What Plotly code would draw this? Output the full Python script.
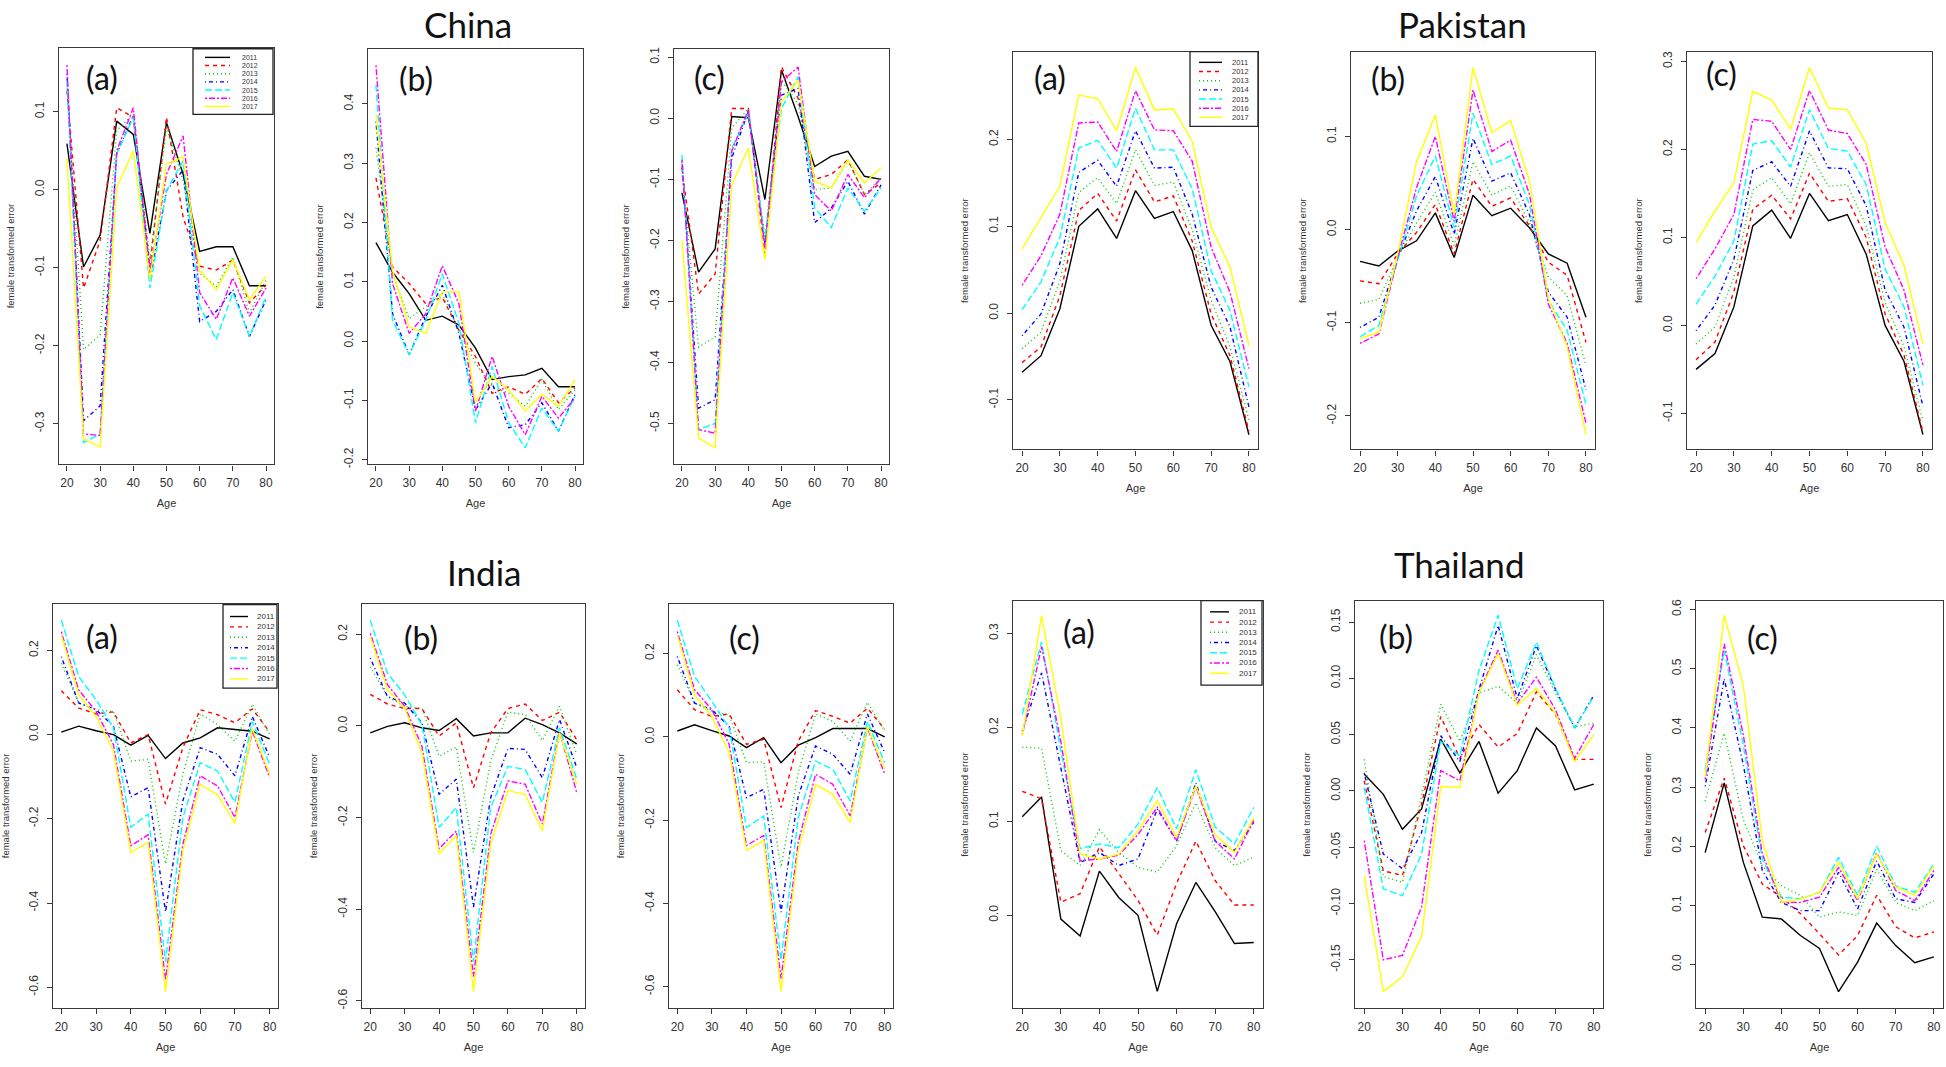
import plotly.graph_objects as go

W, H = 1946, 1067

ages = [20, 25, 30, 35, 40, 45, 50, 55, 60, 65, 70, 75, 80]
years = ["2011", "2012", "2013", "2014", "2015", "2016", "2017"]
line_colors = ["#000000", "#FF0000", "#00CD00", "#0000FF", "#00FFFF", "#FF00FF", "#FFFF00"]
line_dashes = ["solid", "4px,4px", "1px,3px", "1px,3px,4px,3px", "7px,3px", "2px,2px,6px,2px", "solid"]

china_a = [
    [0.059, -0.099, -0.058, 0.088, 0.071, -0.056, 0.086, 0.020, -0.079, -0.073, -0.073, -0.123, -0.123],
    [0.127, -0.126, -0.065, 0.105, 0.093, -0.099, 0.093, -0.035, -0.098, -0.103, -0.090, -0.145, -0.122],
    [0.135, -0.205, -0.186, 0.076, 0.097, -0.090, 0.080, 0.012, -0.107, -0.124, -0.086, -0.158, -0.116],
    [0.148, -0.296, -0.277, 0.046, 0.095, -0.115, -0.001, 0.025, -0.169, -0.156, -0.128, -0.188, -0.141],
    [0.140, -0.324, -0.313, 0.046, 0.093, -0.126, -0.001, 0.037, -0.149, -0.192, -0.132, -0.188, -0.137],
    [0.160, -0.313, -0.315, 0.050, 0.105, -0.107, 0.020, 0.069, -0.132, -0.166, -0.113, -0.162, -0.126],
    [0.040, -0.319, -0.330, 0.003, 0.050, -0.115, 0.033, 0.042, -0.103, -0.128, -0.090, -0.141, -0.111],
]
china_b = [
    [0.166, 0.116, 0.080, 0.035, 0.042, 0.027, -0.012, -0.065, -0.060, -0.057, -0.046, -0.077, -0.077],
    [0.275, 0.125, 0.097, 0.063, 0.074, 0.018, -0.026, -0.088, -0.077, -0.090, -0.063, -0.104, -0.079],
    [0.326, 0.113, 0.038, 0.058, 0.080, 0.018, -0.037, -0.077, -0.088, -0.110, -0.065, -0.116, -0.082],
    [0.370, 0.046, -0.023, 0.041, 0.094, 0.013, -0.116, -0.071, -0.146, -0.141, -0.104, -0.152, -0.090],
    [0.432, 0.035, -0.023, 0.035, 0.113, 0.030, -0.138, -0.043, -0.138, -0.180, -0.113, -0.152, -0.093],
    [0.465, 0.097, 0.013, 0.046, 0.127, 0.063, -0.118, -0.026, -0.110, -0.158, -0.093, -0.130, -0.096],
    [0.382, 0.119, 0.024, 0.013, 0.083, 0.083, -0.104, -0.060, -0.082, -0.118, -0.090, -0.110, -0.065],
]
china_c = [
    [-0.122, -0.252, -0.214, 0.003, 0.001, -0.133, 0.079, 0.003, -0.079, -0.062, -0.054, -0.095, -0.100],
    [-0.081, -0.288, -0.255, 0.016, 0.016, -0.223, 0.084, 0.033, -0.100, -0.092, -0.068, -0.125, -0.106],
    [-0.087, -0.375, -0.358, -0.016, 0.016, -0.195, 0.062, 0.024, -0.117, -0.114, -0.068, -0.125, -0.098],
    [-0.071, -0.475, -0.461, -0.065, 0.011, -0.206, 0.038, 0.049, -0.171, -0.147, -0.103, -0.157, -0.109],
    [-0.060, -0.510, -0.500, -0.049, 0.008, -0.200, 0.016, 0.068, -0.147, -0.179, -0.114, -0.152, -0.114],
    [-0.068, -0.510, -0.516, -0.054, 0.014, -0.212, 0.060, 0.084, -0.125, -0.152, -0.092, -0.130, -0.098],
    [-0.200, -0.524, -0.540, -0.109, -0.049, -0.231, 0.027, 0.062, -0.103, -0.114, -0.068, -0.106, -0.081],
]
pakistan_a = [
    [-0.068, -0.049, 0.005, 0.100, 0.120, 0.086, 0.141, 0.109, 0.117, 0.072, -0.014, -0.056, -0.140],
    [-0.057, -0.039, 0.020, 0.118, 0.138, 0.106, 0.165, 0.128, 0.135, 0.083, -0.001, -0.049, -0.136],
    [-0.041, -0.022, 0.037, 0.139, 0.156, 0.126, 0.188, 0.147, 0.151, 0.096, 0.015, -0.039, -0.123],
    [-0.026, -0.001, 0.057, 0.162, 0.176, 0.146, 0.210, 0.167, 0.168, 0.114, 0.030, -0.016, -0.108],
    [0.004, 0.036, 0.087, 0.190, 0.199, 0.167, 0.236, 0.188, 0.188, 0.143, 0.049, 0.003, -0.085],
    [0.032, 0.066, 0.114, 0.219, 0.220, 0.186, 0.256, 0.211, 0.210, 0.175, 0.076, 0.024, -0.064],
    [0.074, 0.110, 0.146, 0.251, 0.247, 0.210, 0.283, 0.234, 0.235, 0.198, 0.099, 0.053, -0.037],
]
pakistan_b = [
    [-0.034, -0.039, -0.023, -0.012, 0.018, -0.030, 0.037, 0.015, 0.023, 0.002, -0.026, -0.036, -0.094],
    [-0.055, -0.058, -0.026, -0.003, 0.027, -0.026, 0.054, 0.025, 0.034, 0.004, -0.035, -0.049, -0.121],
    [-0.079, -0.075, -0.030, 0.007, 0.040, -0.017, 0.073, 0.037, 0.047, 0.007, -0.051, -0.071, -0.146],
    [-0.105, -0.094, -0.030, 0.020, 0.057, -0.005, 0.098, 0.052, 0.061, 0.016, -0.067, -0.094, -0.172],
    [-0.115, -0.103, -0.033, 0.036, 0.079, 0.002, 0.125, 0.070, 0.079, 0.027, -0.076, -0.108, -0.188],
    [-0.122, -0.112, -0.030, 0.045, 0.100, 0.009, 0.150, 0.084, 0.096, 0.038, -0.080, -0.122, -0.208],
    [-0.117, -0.110, -0.026, 0.073, 0.123, 0.016, 0.174, 0.104, 0.117, 0.052, -0.073, -0.126, -0.220],
]
pakistan_c = [
    [-0.050, -0.032, 0.021, 0.113, 0.131, 0.099, 0.150, 0.119, 0.126, 0.081, 0.000, -0.041, -0.124],
    [-0.039, -0.019, 0.038, 0.132, 0.148, 0.121, 0.173, 0.141, 0.144, 0.100, 0.013, -0.034, -0.121],
    [-0.021, -0.002, 0.055, 0.154, 0.168, 0.138, 0.196, 0.158, 0.160, 0.113, 0.026, -0.024, -0.109],
    [-0.006, 0.023, 0.075, 0.176, 0.186, 0.158, 0.221, 0.179, 0.178, 0.136, 0.040, -0.002, -0.092],
    [0.024, 0.056, 0.096, 0.206, 0.210, 0.180, 0.245, 0.201, 0.198, 0.160, 0.064, 0.021, -0.068],
    [0.053, 0.087, 0.126, 0.234, 0.232, 0.200, 0.267, 0.222, 0.218, 0.183, 0.089, 0.040, -0.045],
    [0.094, 0.130, 0.162, 0.266, 0.256, 0.223, 0.293, 0.247, 0.245, 0.207, 0.117, 0.068, -0.021],
]
india_a = [
    [0.006, 0.020, 0.009, 0.000, -0.025, -0.002, -0.057, -0.020, -0.008, 0.016, 0.012, 0.008, -0.010],
    [0.104, 0.063, 0.049, 0.054, -0.020, 0.000, -0.165, -0.031, 0.059, 0.047, 0.028, 0.061, 0.006],
    [0.169, 0.075, 0.059, 0.055, -0.063, -0.059, -0.307, -0.094, 0.049, 0.024, -0.016, 0.072, 0.000],
    [0.185, 0.075, 0.059, 0.020, -0.148, -0.126, -0.421, -0.157, -0.031, -0.047, -0.098, 0.043, -0.054],
    [0.272, 0.138, 0.083, 0.016, -0.220, -0.189, -0.539, -0.197, -0.067, -0.087, -0.161, 0.031, -0.071],
    [0.244, 0.106, 0.055, -0.024, -0.264, -0.238, -0.583, -0.260, -0.098, -0.122, -0.197, 0.008, -0.102],
    [0.236, 0.094, 0.043, -0.039, -0.280, -0.256, -0.610, -0.276, -0.118, -0.143, -0.211, 0.014, -0.094],
]
india_b = [
    [-0.015, -0.001, 0.007, -0.004, -0.010, 0.016, -0.022, -0.015, -0.015, 0.017, 0.003, -0.015, -0.039],
    [0.069, 0.048, 0.038, 0.038, -0.022, 0.007, -0.135, -0.015, 0.038, 0.048, 0.012, 0.030, -0.030],
    [0.129, 0.064, 0.043, 0.039, -0.066, -0.046, -0.276, -0.077, 0.030, 0.025, -0.032, 0.043, -0.062],
    [0.148, 0.064, 0.050, 0.007, -0.149, -0.116, -0.395, -0.156, -0.049, -0.051, -0.113, 0.014, -0.091],
    [0.231, 0.115, 0.068, 0.003, -0.221, -0.178, -0.514, -0.178, -0.088, -0.095, -0.167, -0.004, -0.116],
    [0.202, 0.090, 0.043, -0.044, -0.268, -0.229, -0.547, -0.236, -0.120, -0.127, -0.214, -0.012, -0.145],
    [0.195, 0.079, 0.039, -0.059, -0.279, -0.239, -0.579, -0.257, -0.141, -0.149, -0.229, -0.015, -0.127],
]
india_c = [
    [0.014, 0.029, 0.015, 0.002, -0.026, -0.002, -0.062, -0.020, -0.002, 0.020, 0.020, 0.020, 0.000],
    [0.113, 0.065, 0.049, 0.055, -0.018, -0.006, -0.170, -0.010, 0.063, 0.049, 0.033, 0.069, 0.018],
    [0.173, 0.081, 0.061, 0.053, -0.062, -0.060, -0.313, -0.086, 0.055, 0.037, -0.010, 0.083, 0.014],
    [0.193, 0.081, 0.065, 0.025, -0.146, -0.126, -0.421, -0.142, -0.022, -0.042, -0.090, 0.055, -0.038],
    [0.280, 0.145, 0.085, 0.022, -0.218, -0.190, -0.536, -0.194, -0.058, -0.078, -0.154, 0.037, -0.062],
    [0.253, 0.113, 0.065, -0.018, -0.261, -0.237, -0.580, -0.253, -0.090, -0.114, -0.190, 0.022, -0.090],
    [0.245, 0.101, 0.049, -0.038, -0.273, -0.249, -0.612, -0.273, -0.114, -0.138, -0.206, 0.025, -0.078],
]
thailand_a = [
    [0.105, 0.126, -0.004, -0.022, 0.047, 0.019, 0.000, -0.081, -0.009, 0.035, 0.004, -0.030, -0.029],
    [0.132, 0.124, 0.014, 0.023, 0.073, 0.044, 0.016, -0.021, 0.034, 0.079, 0.037, 0.011, 0.011],
    [0.179, 0.178, 0.069, 0.053, 0.091, 0.067, 0.051, 0.046, 0.074, 0.120, 0.072, 0.053, 0.062],
    [0.196, 0.258, 0.157, 0.056, 0.067, 0.053, 0.060, 0.113, 0.079, 0.141, 0.079, 0.069, 0.099],
    [0.214, 0.291, 0.175, 0.071, 0.076, 0.072, 0.097, 0.136, 0.092, 0.155, 0.094, 0.076, 0.115],
    [0.192, 0.286, 0.185, 0.058, 0.060, 0.064, 0.086, 0.115, 0.079, 0.137, 0.079, 0.060, 0.101],
    [0.191, 0.319, 0.210, 0.065, 0.060, 0.065, 0.090, 0.122, 0.083, 0.138, 0.086, 0.067, 0.104],
]
thailand_b = [
    [0.015, -0.003, -0.034, -0.016, 0.046, 0.016, 0.044, -0.002, 0.018, 0.056, 0.040, 0.001, 0.006],
    [0.009, -0.071, -0.075, -0.012, 0.066, 0.029, 0.059, 0.039, 0.051, 0.088, 0.068, 0.028, 0.028],
    [0.028, -0.076, -0.081, -0.004, 0.077, 0.044, 0.087, 0.093, 0.078, 0.121, 0.087, 0.057, 0.060],
    [0.016, -0.056, -0.069, -0.037, 0.049, 0.026, 0.090, 0.147, 0.082, 0.129, 0.090, 0.056, 0.085],
    [0.003, -0.087, -0.093, -0.056, 0.044, 0.031, 0.107, 0.156, 0.091, 0.132, 0.091, 0.056, 0.084],
    [-0.044, -0.150, -0.146, -0.103, 0.018, 0.009, 0.088, 0.125, 0.078, 0.101, 0.072, 0.029, 0.059],
    [-0.075, -0.178, -0.165, -0.129, 0.004, 0.003, 0.087, 0.122, 0.076, 0.091, 0.069, 0.026, 0.050],
]
thailand_c = [
    [0.189, 0.307, 0.173, 0.080, 0.077, 0.049, 0.027, -0.046, 0.004, 0.070, 0.032, 0.003, 0.013],
    [0.223, 0.315, 0.201, 0.136, 0.114, 0.086, 0.052, 0.016, 0.049, 0.117, 0.064, 0.045, 0.055],
    [0.276, 0.391, 0.245, 0.167, 0.133, 0.117, 0.080, 0.089, 0.083, 0.161, 0.105, 0.091, 0.108],
    [0.301, 0.483, 0.338, 0.159, 0.105, 0.091, 0.091, 0.156, 0.094, 0.175, 0.111, 0.105, 0.153],
    [0.329, 0.531, 0.371, 0.178, 0.114, 0.111, 0.122, 0.181, 0.117, 0.200, 0.133, 0.122, 0.170],
    [0.313, 0.542, 0.388, 0.187, 0.105, 0.105, 0.114, 0.164, 0.108, 0.189, 0.125, 0.108, 0.159],
    [0.318, 0.590, 0.472, 0.209, 0.105, 0.111, 0.122, 0.173, 0.111, 0.187, 0.131, 0.117, 0.167],
]

x_ticks = [20, 30, 40, 50, 60, 70, 80]
ticks_china_a = [-0.3, -0.2, -0.1, 0.0, 0.1]
ticks_china_b = [-0.2, -0.1, 0.0, 0.1, 0.2, 0.3, 0.4]
ticks_china_c = [-0.5, -0.4, -0.3, -0.2, -0.1, 0.0, 0.1]
ticks_pak_a = [-0.1, 0.0, 0.1, 0.2]
ticks_pak_b = [-0.2, -0.1, 0.0, 0.1]
ticks_pak_c = [-0.1, 0.0, 0.1, 0.2, 0.3]
ticks_india = [-0.6, -0.4, -0.2, 0.0, 0.2]
ticks_thai_a = [0.0, 0.1, 0.2, 0.3]
ticks_thai_b = [-0.15, -0.10, -0.05, 0.00, 0.05, 0.10, 0.15]
ticks_thai_c = [0.0, 0.1, 0.2, 0.3, 0.4, 0.5, 0.6]

country_titles = ["China", "Pakistan", "India", "Thailand"]
panel_tags = ["(a)", "(b)", "(c)"]

# ---- layout specs (pixel geometry) ----
panels = [
    dict(data=china_a, box=(59, 274, 46, 465), yr=(-0.352, 0.182), yt=ticks_china_a, dec=1, tag=0, tagpos=(102, 76),
         legend=dict(box=(193, 273, 47, 113), line=(205, 230), tx=240, ty=(55.7, 105), size=7)),
    dict(data=china_b, box=(368, 583, 47, 465), yr=(-0.208, 0.493), yt=ticks_china_b, dec=1, tag=1, tagpos=(416, 77)),
    dict(data=china_c, box=(674, 889, 47, 465), yr=(-0.567, 0.114), yt=ticks_china_c, dec=1, tag=2, tagpos=(709, 76)),
    dict(data=pakistan_a, box=(1013, 1258, 50, 450), yr=(-0.157, 0.301), yt=ticks_pak_a, dec=1, tag=0, tagpos=(1050, 76),
         legend=dict(box=(1190, 1258, 50, 125), line=(1199, 1222), tx=1230, ty=(60.7, 116), size=7.5)),
    dict(data=pakistan_b, box=(1351, 1595, 50, 450), yr=(-0.236, 0.191), yt=ticks_pak_b, dec=1, tag=1, tagpos=(1388, 77)),
    dict(data=pakistan_c, box=(1687, 1932, 50, 450), yr=(-0.141, 0.311), yt=ticks_pak_c, dec=1, tag=2, tagpos=(1721, 72)),
    dict(data=india_a, box=(53, 278, 605, 1012), yr=(-0.65, 0.311), yt=ticks_india, dec=1, tag=0, tagpos=(102, 638),
         legend=dict(box=(223, 277, 606, 690), line=(230, 248), tx=255, ty=(618, 680.7), size=8)),
    dict(data=india_b, box=(362, 585, 605, 1012), yr=(-0.616, 0.267), yt=ticks_india, dec=1, tag=1, tagpos=(421, 639)),
    dict(data=india_c, box=(669, 893, 605, 1012), yr=(-0.652, 0.32), yt=ticks_india, dec=1, tag=2, tagpos=(744, 639)),
    dict(data=thailand_a, box=(1013, 1263, 602, 1012), yr=(-0.099, 0.335), yt=ticks_thai_a, dec=1, tag=0, tagpos=(1079, 633),
         legend=dict(box=(1201, 1262, 602, 687), line=(1210, 1229), tx=1237, ty=(613.3, 675), size=8)),
    dict(data=thailand_b, box=(1355, 1603, 602, 1012), yr=(-0.193, 0.169), yt=ticks_thai_b, dec=2, tag=1, tagpos=(1396, 638)),
    dict(data=thailand_c, box=(1696, 1943, 602, 1012), yr=(-0.074, 0.615), yt=ticks_thai_c, dec=1, tag=2, tagpos=(1762, 639)),
]
# (x center, y, anchor) in pixels
title_pos = [(468, 0, "top"), (1462, 0, "top"), (484, 573, "middle"), (1459, 565, "middle")]


def px(x):
    return x / W


def py(y):
    return 1 - y / H


AXIS_COLOR = "#3a3a3a"
TEXT_COLOR = "#333333"
TICK_FONT = dict(family="Liberation Sans, Arial, sans-serif", size=12, color=TEXT_COLOR)

fig = go.Figure()
layout = dict(
    width=W, height=H, margin=dict(l=0, r=0, t=0, b=0),
    paper_bgcolor="white", plot_bgcolor="white", showlegend=False,
)
annotations = []
shapes = []

for i, p in enumerate(panels):
    n = i + 1
    xref = "x" if n == 1 else f"x{n}"
    yref = "y" if n == 1 else f"y{n}"
    xkey = "xaxis" if n == 1 else f"xaxis{n}"
    ykey = "yaxis" if n == 1 else f"yaxis{n}"
    x0, x1, y0, y1 = p["box"]
    for k, series in enumerate(p["data"]):
        fig.add_trace(go.Scatter(
            x=ages, y=series, mode="lines", name=years[k],
            line=dict(color=line_colors[k], width=1.4, dash=line_dashes[k]),
            xaxis=xref, yaxis=yref, showlegend=False,
        ))
    layout[xkey] = dict(
        domain=[px(x0), px(x1)], anchor=yref, range=[17.6, 82.4],
        tickvals=x_ticks, ticktext=[str(v) for v in x_ticks],
        showline=True, mirror=True, linecolor=AXIS_COLOR, linewidth=1.3,
        ticks="outside", ticklen=5, tickwidth=1, tickcolor=AXIS_COLOR,
        showgrid=False, zeroline=False, tickfont=TICK_FONT, ticklabelstandoff=2,
        title=dict(text="Age", font=dict(family="Liberation Sans, Arial, sans-serif", size=11, color=TEXT_COLOR), standoff=10),
        fixedrange=True,
    )
    fmt = "{:." + str(p["dec"]) + "f}"
    layout[ykey] = dict(
        domain=[py(y1), py(y0)], anchor=xref, range=list(p["yr"]),
        tickvals=p["yt"], ticktext=[fmt.format(v) for v in p["yt"]], tickangle=-90,
        showline=True, mirror=True, linecolor=AXIS_COLOR, linewidth=1.3,
        ticks="outside", ticklen=5, tickwidth=1, tickcolor=AXIS_COLOR,
        showgrid=False, zeroline=False, tickfont=TICK_FONT, ticklabelstandoff=4,
        title=dict(text="female transformed error", font=dict(family="Liberation Sans, Arial, sans-serif", size=9.5, color=TEXT_COLOR), standoff=16),
        fixedrange=True,
    )
    tx, ty = p["tagpos"]
    annotations.append(dict(
        text=panel_tags[p["tag"]], x=px(tx), y=py(ty), xref="paper", yref="paper",
        xanchor="center", yanchor="middle", showarrow=False,
        font=dict(family="Lato, Open Sans, sans-serif", size=32, color="#111111"),
    ))
    lg = p.get("legend")
    if lg:
        bx0, bx1, by0, by1 = lg["box"]
        shapes.append(dict(type="rect", xref="paper", yref="paper",
                           x0=px(bx0), x1=px(bx1), y0=py(by1), y1=py(by0),
                           line=dict(color="#222222", width=1.3), fillcolor="white", layer="above"))
        ly0, ly1 = lg["ty"]
        step = (ly1 - ly0) / (len(years) - 1)
        for k, yr_name in enumerate(years):
            yy = ly0 + k * step
            shapes.append(dict(type="line", xref="paper", yref="paper",
                               x0=px(lg["line"][0]), x1=px(lg["line"][1]), y0=py(yy), y1=py(yy),
                               line=dict(color=line_colors[k], width=1.4, dash=line_dashes[k]), layer="above"))
            annotations.append(dict(
                text=yr_name, x=px(lg["tx"]), y=py(yy), xref="paper", yref="paper",
                xanchor="left", yanchor="middle", showarrow=False,
                font=dict(family="Liberation Sans, Arial, sans-serif", size=lg["size"], color=TEXT_COLOR),
            ))

for name, (tx, ty, anchor) in zip(country_titles, title_pos):
    annotations.append(dict(
        text=name, x=px(tx), y=py(ty), xref="paper", yref="paper",
        xanchor="center", yanchor=anchor, showarrow=False,
        font=dict(family="Lato, Open Sans, sans-serif", size=35, color="#111111"),
        borderpad=0,
    ))

layout["annotations"] = annotations
layout["shapes"] = shapes
fig.update_layout(**layout)
fig.write_html(
    "out.html",
    config={"displayModeBar": False},
    post_script="document.body.style.margin='0';document.body.style.padding='0';document.body.style.overflow='hidden';",
)
